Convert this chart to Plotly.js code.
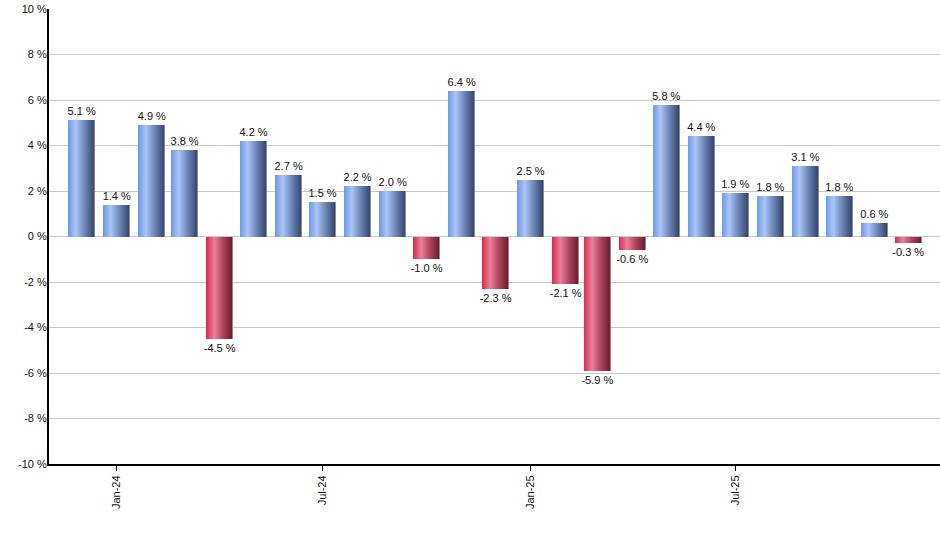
<!DOCTYPE html>
<html>
<head>
<meta charset="utf-8">
<script src="https://cdn.plot.ly/plotly-3.0.1.min.js"></script>
<style>html,body{margin:0;padding:0;background:#fff;}#chart{width:940px;height:550px;}</style>
</head>
<body>
<div id="chart"></div>
<script>
var months = ["2023-12-01","2024-01-01","2024-02-01","2024-03-01","2024-04-01","2024-05-01","2024-06-01","2024-07-01","2024-08-01","2024-09-01","2024-10-01","2024-11-01","2024-12-01","2025-01-01","2025-02-01","2025-03-01","2025-04-01","2025-05-01","2025-06-01","2025-07-01","2025-08-01","2025-09-01","2025-10-01","2025-11-01","2025-12-01"];
var values = [5.1,1.4,4.9,3.8,-4.5,4.2,2.7,1.5,2.2,2.0,-1.0,6.4,-2.3,2.5,-2.1,-5.9,-0.6,5.8,4.4,1.9,1.8,3.1,1.8,0.6,-0.3];
var tickVals = ["2024-01-01","2024-07-01","2025-01-01","2025-07-01"];
var tickText = ["Jan-24","Jul-24","Jan-25","Jul-25"];
var yTickVals = [-10,-8,-6,-4,-2,0,2,4,6,8,10];
var yTickText = yTickVals.map(function(v){return v + " %";});

var colors = values.map(function(v){ return v >= 0 ? "#7f9fd8" : "#c0344f"; });
var DAY = 86400000;

var trace = {
  type: "bar",
  x: months,
  y: values,
  width: months.map(function(){return 24*DAY;}),
  marker: {color: colors, line: {width: 0}},
  text: values.map(function(v){return v.toFixed(1) + " %";}),
  textposition: "outside",
  constraintext: "none",
  textfont: {family: "Arial, Liberation Sans, sans-serif", size: 11, color: "#111"},
  cliponaxis: false,
  hoverinfo: "skip"
};

var layout = {
  width: 940, height: 550,
  margin: {l: 49, r: 0, t: 9, b: 86, pad: 0},
  paper_bgcolor: "#fff", plot_bgcolor: "#fff",
  showlegend: false,
  font: {family: "Arial, Liberation Sans, sans-serif", size: 11, color: "#111"},
  xaxis: {
    type: "date",
    range: ["2023-11-02", "2025-12-29"],
    tickvals: tickVals, ticktext: tickText,
    tickangle: -90,
    ticks: "outside", ticklen: 5, tickcolor: "#000", tickwidth: 1,
    showline: true, linecolor: "#000", linewidth: 2,
    showgrid: false, zeroline: false,
    tickfont: {size: 11, color: "#111"}
  },
  yaxis: {
    range: [-10, 10],
    tickvals: yTickVals, ticktext: yTickText,
    showline: true, linecolor: "#000", linewidth: 2,
    showgrid: true, gridcolor: "#c8c8c8", gridwidth: 1,
    zeroline: false, ticks: "", ticklen: 0, ticklabelstandoff: -2,
    tickfont: {size: 11, color: "#111"}
  },
  bargap: 0
};

Plotly.newPlot("chart", [trace], layout, {displayModeBar: false, staticPlot: true}).then(function(gd){
  var svg = gd.querySelector("svg.main-svg");
  var ns = "http://www.w3.org/2000/svg";
  var defs = svg.querySelector("defs") || svg.insertBefore(document.createElementNS(ns,"defs"), svg.firstChild);
  function grad(id, stops){
    var g = document.createElementNS(ns, "linearGradient");
    g.setAttribute("id", id);
    g.setAttribute("x1","0"); g.setAttribute("y1","0"); g.setAttribute("x2","1"); g.setAttribute("y2","0");
    stops.forEach(function(s){
      var st = document.createElementNS(ns, "stop");
      st.setAttribute("offset", s[0]); st.setAttribute("stop-color", s[1]);
      g.appendChild(st);
    });
    defs.appendChild(g);
  }
  grad("gBlue", [["0","#6c98ec"],["0.28","#aac5f7"],["0.6","#6e86b8"],["0.955","#344770"],["0.96","#8c8c8c"],["1","#8c8c8c"]]);
  grad("gRed", [["0","#dc264e"],["0.3","#e98298"],["0.6","#b04860"],["0.955","#6e1c30"],["0.96","#8c8c8c"],["1","#8c8c8c"]]);
  var paths = gd.querySelectorAll(".barlayer .point path");
  paths.forEach(function(p, i){
    p.style.fill = values[i] >= 0 ? "url(#gBlue)" : "url(#gRed)";
  });
});
</script>
</body>
</html>
